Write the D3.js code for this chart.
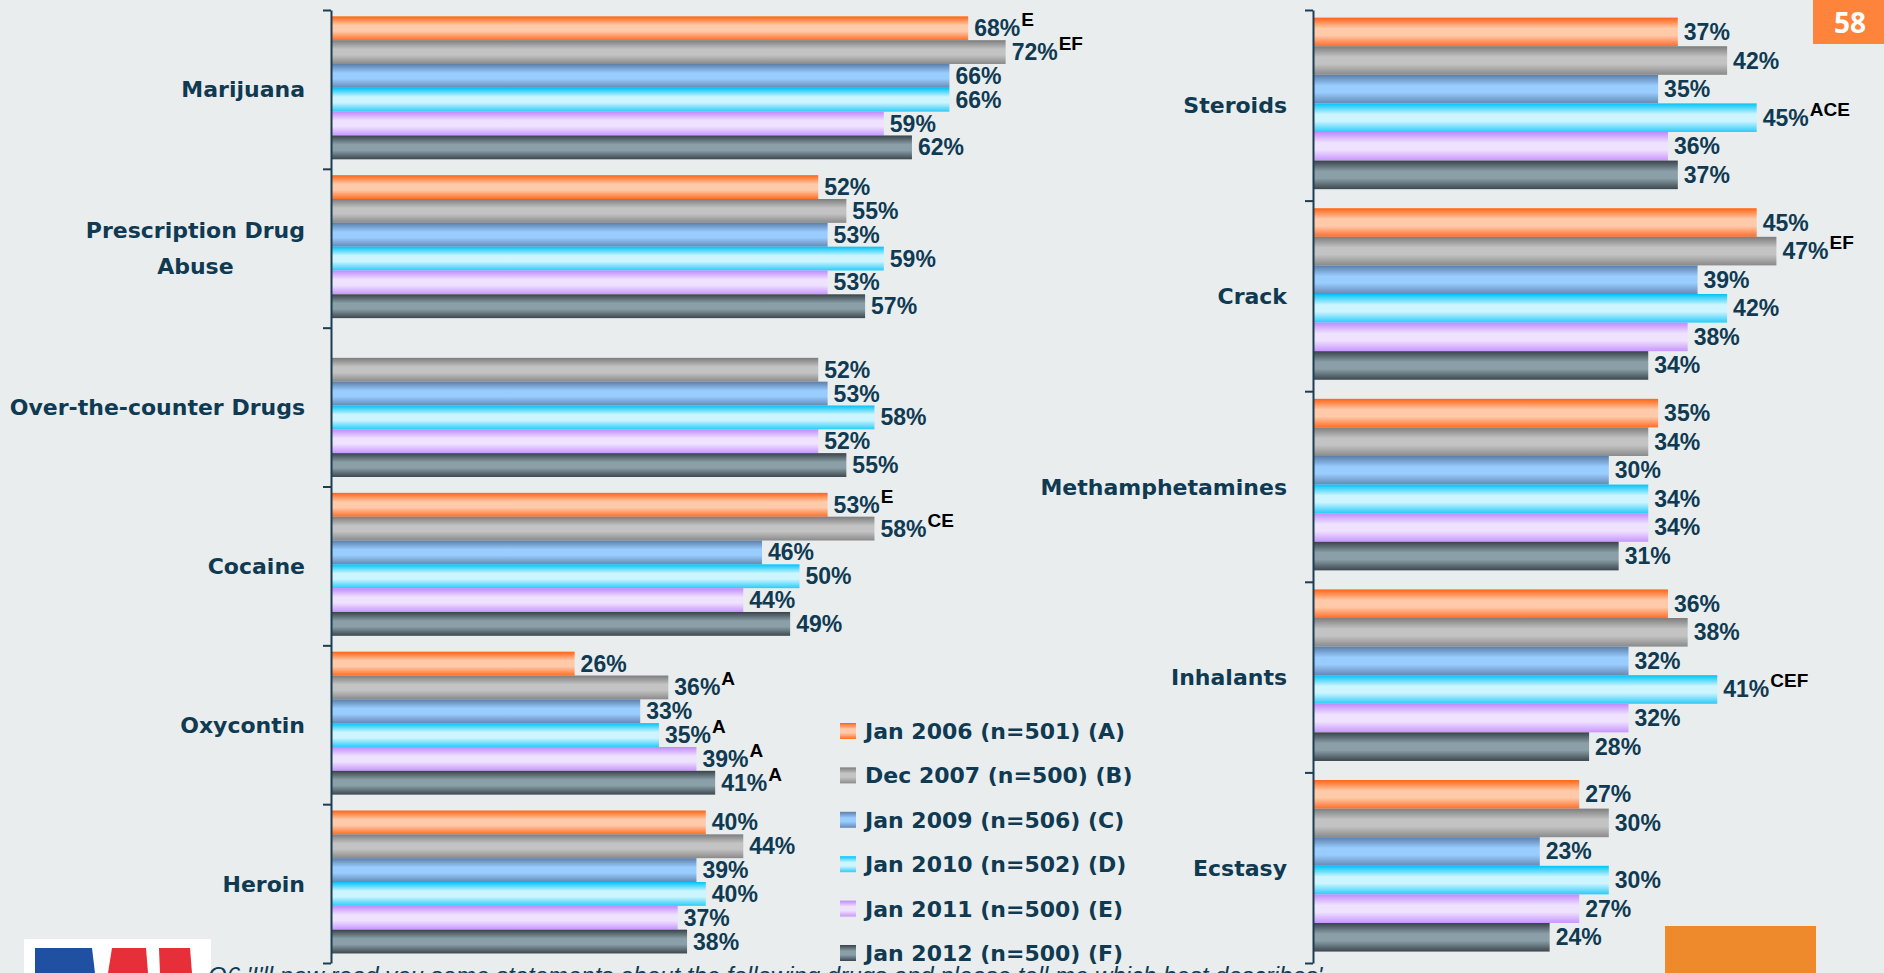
<!DOCTYPE html>
<html>
<head>
  <meta http-equiv="Content-Type" content="text/html;charset=utf-8" />
  <style type="text/css">
    body { margin: 0; background: #e9edee; }
    svg { display: block; }
    .cat { font-family: "DejaVu Sans", sans-serif; font-weight: bold; font-size: 22px; fill: #0f3a52; }
    .val { font-family: "Liberation Sans", Arial, sans-serif; font-weight: bold; font-size: 23px; fill: #0f3a52; }
    .sup { font-size: 19px; fill: #000; }
    .leg { font-family: "DejaVu Sans", sans-serif; font-weight: bold; font-size: 22px; fill: #0f3a52; }
  </style>
</head>

<body>
  <div id="chart"></div>
  <script src="https://d3js.org/d3.v7.min.js"></script>

  <script type="text/javascript">
    var w = 1884;
    var h = 973;

    var seriesNames = ["Jan 2006 (n=501) (A)", "Dec 2007 (n=500) (B)", "Jan 2009 (n=506) (C)",
                       "Jan 2010 (n=502) (D)", "Jan 2011 (n=500) (E)", "Jan 2012 (n=500) (F)"];

    // left panel
    var leftCats = ["Marijuana", "Prescription Drug\nAbuse", "Over-the-counter Drugs", "Cocaine", "Oxycontin", "Heroin"];
    var leftA = [68, 52, null, 53, 26, 40];
    var leftB = [72, 55, 52, 58, 36, 44];
    var leftC = [66, 53, 53, 46, 33, 39];
    var leftD = [66, 59, 58, 50, 35, 40];
    var leftE = [59, 53, 52, 44, 39, 37];
    var leftF = [62, 57, 55, 49, 41, 38];
    var leftSupA = ["E", "", "", "E", "", ""];
    var leftSupB = ["EF", "", "", "CE", "A", ""];
    var leftSupC = ["", "", "", "", "", ""];
    var leftSupD = ["", "", "", "", "A", ""];
    var leftSupE = ["", "", "", "", "A", ""];
    var leftSupF = ["", "", "", "", "A", ""];

    // right panel
    var rightCats = ["Steroids", "Crack", "Methamphetamines", "Inhalants", "Ecstasy"];
    var rightA = [37, 45, 35, 36, 27];
    var rightB = [42, 47, 34, 38, 30];
    var rightC = [35, 39, 30, 32, 23];
    var rightD = [45, 42, 34, 41, 30];
    var rightE = [36, 38, 34, 32, 27];
    var rightF = [37, 34, 31, 28, 24];
    var rightSupA = ["", "", "", "", ""];
    var rightSupB = ["", "EF", "", "", ""];
    var rightSupC = ["", "", "", "", ""];
    var rightSupD = ["ACE", "", "", "CEF", ""];
    var rightSupE = ["", "", "", "", ""];
    var rightSupF = ["", "", "", "", ""];

    // top / middle / bottom colours of each bar's shine
    var seriesColors = [
      ["#ff6414", "#ffcaaa", "#ff6e28"],
      ["#7d7d7d", "#c3c3c3", "#8a8a8a"],
      ["#5a7ea8", "#99ccff", "#6589b3"],
      ["#00c3f7", "#ccf5ff", "#2ccbfa"],
      ["#c08aff", "#efe2ff", "#c996ff"],
      ["#38424a", "#8a9fa7", "#3c474f"]
    ];

    var svg = d3.select("#chart")
      .append("svg")
      .attr("width", w)
      .attr("height", h);

    svg.append("rect").attr("width", w).attr("height", h).attr("fill", "#e9edee");

    var defs = svg.append("defs");
    seriesColors.forEach(function (c, i) {
      var g = defs.append("linearGradient")
        .attr("id", "grad" + i)
        .attr("x1", 0).attr("y1", 0).attr("x2", 0).attr("y2", 1);
      g.append("stop").attr("offset", "0%").attr("stop-color", c[0]);
      g.append("stop").attr("offset", "38%").attr("stop-color", c[1]);
      g.append("stop").attr("offset", "62%").attr("stop-color", c[1]);
      g.append("stop").attr("offset", "100%").attr("stop-color", c[2]);
    });

    var plotTop = 10, plotBottom = 963;

    function drawPanel(cats, series, sups, axisX, pxPerPct) {
      var y = d3.scaleBand().domain(cats).range([plotTop, plotBottom]);
      var x = d3.scaleLinear().domain([0, 100]).range([axisX, axisX + pxPerPct * 100]);
      var bw = y.bandwidth();
      var inner = d3.scaleBand().domain(d3.range(series.length)).range([bw * 0.04, bw * 0.94]);

      var g = svg.append("g");

      series.forEach(function (vals, i) {
        var rows = cats.map(function (c, j) { return { cat: c, v: vals[j], sup: sups[i][j] }; })
          .filter(function (d) { return d.v != null; });

        g.selectAll(".bar" + i)
          .data(rows)
          .enter().append("rect")
          .attr("x", x(0))
          .attr("y", function (d) { return y(d.cat) + inner(i); })
          .attr("width", function (d) { return x(d.v) - x(0); })
          .attr("height", inner.bandwidth())
          .attr("fill", "url(#grad" + i + ")");

        var t = g.selectAll(".lab" + i)
          .data(rows)
          .enter().append("text")
          .attr("class", "val")
          .attr("x", function (d) { return x(d.v) + 6; })
          .attr("y", function (d) { return y(d.cat) + inner(i) + inner.bandwidth() / 2 + 8; })
          .text(function (d) { return d.v + "%"; });

        t.filter(function (d) { return d.sup; })
          .append("tspan")
          .attr("class", "sup")
          .attr("dx", 1)
          .attr("dy", -10)
          .text(function (d) { return d.sup; });
      });

      // axis: boundaries between categories
      var yi = d3.scaleLinear().domain([0, cats.length]).range([plotTop, plotBottom]);
      svg.append("g")
        .attr("transform", "translate(" + axisX + ",0)")
        .call(d3.axisLeft(yi).ticks(cats.length).tickSizeInner(8).tickSizeOuter(0).tickFormat(""))
        .call(function (a) {
          a.selectAll("path, line").attr("stroke", "#1d3d52").attr("stroke-width", 2);
        });

      // category labels
      cats.forEach(function (c) {
        var lines = c.split("\n");
        var t = svg.append("text")
          .attr("class", "cat")
          .attr("text-anchor", "middle");
        var lh = 36;
        var cy = y(c) + bw / 2 + 8 - (lines.length - 1) * lh / 2;
        lines.forEach(function (l, k) {
          t.append("tspan").attr("x", 0).attr("y", cy + k * lh).text(l);
        });
        var maxW = d3.max(t.selectAll("tspan").nodes(), function (n) { return n.getComputedTextLength(); });
        t.selectAll("tspan").attr("x", axisX - 26 - maxW / 2);
      });
    }

    drawPanel(leftCats,
      [leftA, leftB, leftC, leftD, leftE, leftF],
      [leftSupA, leftSupB, leftSupC, leftSupD, leftSupE, leftSupF],
      331, 9.37);

    drawPanel(rightCats,
      [rightA, rightB, rightC, rightD, rightE, rightF],
      [rightSupA, rightSupB, rightSupC, rightSupD, rightSupE, rightSupF],
      1313, 9.86);

    // legend
    var leg = svg.append("g").attr("transform", "translate(840,723)");
    var ly = d3.scalePoint().domain(seriesNames).range([0, 222]);
    seriesNames.forEach(function (n, i) {
      leg.append("rect")
        .attr("x", 0).attr("y", ly(n))
        .attr("width", 16).attr("height", 16)
        .attr("fill", "url(#grad" + i + ")");
      leg.append("text")
        .attr("class", "leg")
        .attr("x", 25).attr("y", ly(n) + 16)
        .text(n);
    });

    // page number box
    svg.append("rect").attr("x", 1813).attr("y", 0).attr("width", 71).attr("height", 44).attr("fill", "#fd843a");
    svg.append("text")
      .attr("x", 1850).attr("y", 33)
      .attr("text-anchor", "middle")
      .attr("font-family", "'Open Sans', sans-serif")
      .attr("font-weight", "bold")
      .attr("font-size", 28)
      .attr("fill", "#fff")
      .text("58");

    // footer pieces (cut off by the page edge)
    var logo = svg.append("g");
    logo.append("rect").attr("x", 24).attr("y", 939).attr("width", 187).attr("height", 40).attr("fill", "#fff");
    logo.append("polygon").attr("points", "35,948 92,948 95,973 35,973").attr("fill", "#1f50a2");
    logo.append("polygon").attr("points", "112,948 146,948 148,973 108,973").attr("fill", "#e62f38");
    logo.append("polygon").attr("points", "159,948 190,948 192,973 160,973").attr("fill", "#e62f38");

    svg.append("text")
      .attr("x", 208).attr("y", 984)
      .attr("font-family", "'Liberation Sans', Arial, sans-serif")
      .attr("font-style", "italic")
      .attr("font-size", 24)
      .attr("fill", "#0f3a52")
      .text("Q6 'I'll now read you some statements about the following drugs and please tell me which best describes'");

    svg.append("rect").attr("x", 1665).attr("y", 926).attr("width", 151).attr("height", 47).attr("fill", "#ef8a2c");
  </script>
</body>

</html>
